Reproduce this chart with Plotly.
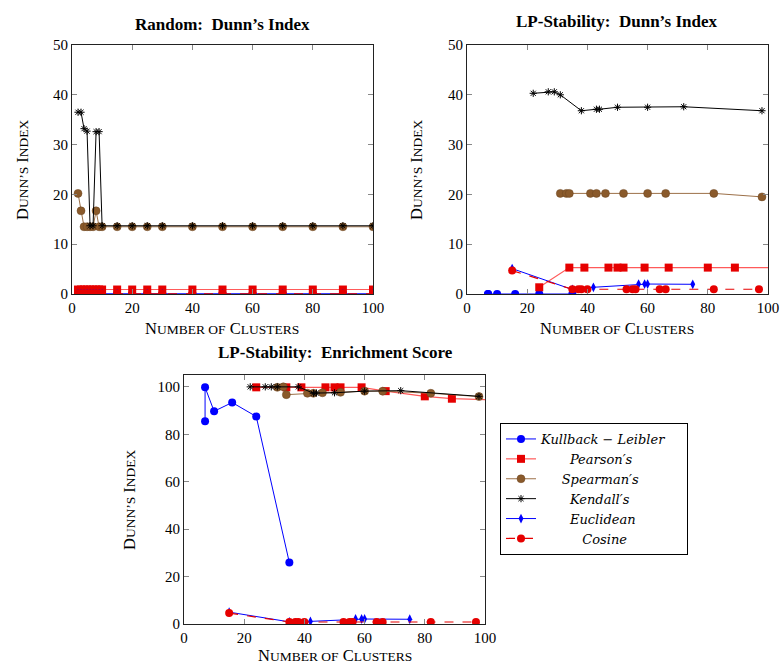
import plotly.graph_objects as go

# ---------------- data ----------------
# Random: Dunn's Index
rand_x = [2, 3, 4, 5, 6, 7, 8, 9, 10, 15, 20, 25, 30, 40, 50, 60, 70, 80, 90, 100]
rand_kl = [0, 0, 0, 0, 0, 0, 0, 0, 0, 0, 0, 0, 0, 0, 0, 0, 0, 0, 0, 0]
rand_pearson = [0.9, 0.9, 0.9, 0.9, 0.9, 0.9, 0.9, 0.9, 0.9, 0.9, 0.9, 0.9, 0.9, 0.9, 0.9, 0.9, 0.9, 0.9, 0.9, 0.9]
rand_spearman = [20.2, 16.7, 13.5, 13.5, 13.5, 13.5, 16.7, 13.5, 13.5, 13.5, 13.5, 13.5, 13.5, 13.5, 13.5, 13.5, 13.5, 13.5, 13.5, 13.5]
rand_kendall = [36.5, 36.5, 33.2, 32.7, 13.7, 13.7, 32.6, 32.6, 13.7, 13.7, 13.7, 13.7, 13.7, 13.7, 13.7, 13.7, 13.7, 13.7, 13.7, 13.7]
rand_euclid = [0, 0, 0, 0, 0, 0, 0, 0, 0, 0, 0, 0, 0, 0, 0, 0, 0, 0, 0, 0]
rand_cosine = [0.05, 0.05, 0.05, 0.05, 0.05, 0.05, 0.05, 0.05, 0.05, 0.05, 0.05, 0.05, 0.05, 0.05, 0.05, 0.05, 0.05, 0.05, 0.05, 0.05]

# LP-Stability cluster counts
kl_x = [7, 7, 10, 16, 24, 35]
pearson_x = [24, 34, 39, 47, 50, 52, 59, 67, 80, 89, 105]
spearman_x = [31, 33, 34, 41, 43, 46, 52, 60, 66, 82, 98]
kendall_x = [22, 27, 29, 31, 38, 43, 44, 50, 60, 72, 98]
euclid_x = [15, 35, 42, 57, 59, 60, 75]
cosine_x = [15, 35, 37, 38, 40, 53, 55, 56, 64, 66, 82, 97]

# LP-Stability: Dunn's Index
lp_kl = [0, 0, 0, 0, 0, 0]
lp_pearson = [1.35, 5.3, 5.3, 5.3, 5.3, 5.3, 5.3, 5.3, 5.3, 5.3, 5.3]
lp_spearman = [20.2, 20.2, 20.2, 20.2, 20.2, 20.2, 20.2, 20.2, 20.2, 20.2, 19.5]
lp_kendall = [40.3, 40.6, 40.6, 40.0, 36.8, 37.1, 37.1, 37.5, 37.5, 37.6, 36.8]
lp_euclid = [5.1, 0.9, 1.35, 2.0, 2.0, 2.0, 1.95]
lp_cosine = [4.7, 0.95, 0.95, 0.95, 0.95, 0.95, 0.95, 0.95, 0.95, 0.95, 0.95, 0.95]

# LP-Stability: Enrichment Score
en_kl = [85.5, 99.8, 89.7, 93.4, 87.5, 25.9]
en_pearson = [99.8, 99.8, 99.8, 99.8, 99.8, 99.8, 99.8, 98.2, 96.0, 95.0, 94.5]
en_spearman = [99.8, 100.0, 96.7, 97.3, 97.3, 97.5, 97.7, 98.2, 98.2, 97.3, 95.9]
en_kendall = [100.0, 100.0, 100.0, 100.0, 100.0, 97.3, 97.4, 97.5, 98.2, 98.4, 96.0]
en_euclid = [5.0, 0.9, 1.1, 2.1, 2.1, 2.1, 2.0]
en_cosine = [4.6, 0.85, 0.85, 0.85, 0.85, 0.85, 0.85, 0.85, 0.85, 0.85, 0.85, 0.85]

NB = "\u00a0"
names = ["<i>Kullback</i> − <i>Leibler</i>" + NB * 4,
         NB * 7 + "<i>Pearson′s</i>",
         NB * 5 + "<i>Spearman′s</i>",
         NB * 7 + "<i>Kendall′s</i>",
         NB * 7 + "<i>Euclidean</i>",
         NB * 10 + "<i>Cosine</i>"]

BLUE = "#0000ff"
RED = "#e60000"
REDL = "#ff5a5a"
BROWN = "#8a5a2b"
BLACK = "#000000"

styles = [
    dict(line=dict(color=BLUE, width=1), marker=dict(symbol="circle", size=8, color=BLUE)),
    dict(line=dict(color=REDL, width=1.2), marker=dict(symbol="square", size=8, color=RED)),
    dict(line=dict(color="#9c7048", width=1), marker=dict(symbol="circle", size=8, color=BROWN,
                                                        line=dict(color="#6b4420", width=0.5))),
    dict(line=dict(color=BLACK, width=1), marker=dict(symbol="asterisk-open", size=6,
                                                      line=dict(color=BLACK, width=1))),
    dict(line=dict(color=BLUE, width=1), marker=dict(symbol="diamond-tall", size=7, color=BLUE)),
    dict(line=dict(color=RED, width=1.2, dash="dash"), marker=dict(symbol="circle", size=8, color=RED)),
]

fig = go.Figure()

panels = [
    ("x", "y", [rand_x] * 6, [rand_kl, rand_pearson, rand_spearman, rand_kendall, rand_euclid, rand_cosine], False),
    ("x2", "y2", [kl_x, pearson_x, spearman_x, kendall_x, euclid_x, cosine_x],
     [lp_kl, lp_pearson, lp_spearman, lp_kendall, lp_euclid, lp_cosine], False),
    ("x3", "y3", [kl_x, pearson_x, spearman_x, kendall_x, euclid_x, cosine_x],
     [en_kl, en_pearson, en_spearman, en_kendall, en_euclid, en_cosine], True),
]

for xa, ya, xs, ys, show in panels:
    for i in range(6):
        fig.add_trace(go.Scatter(x=xs[i], y=ys[i], mode="lines+markers", name=names[i],
                                 showlegend=show, xaxis=xa, yaxis=ya, **styles[i]))

W, H = 780, 666
FONT = "Liberation Serif"


def dx(a, b):
    return [a / W, b / W]


def dy(top, bottom):
    return [(H - bottom) / H, (H - top) / H]


axis_common = dict(showline=True, linecolor="#222222", linewidth=1, mirror="ticks",
                   ticks="inside", ticklen=5, tickcolor="#888888", showgrid=False,
                   zeroline=False, automargin=False,
                   tickfont=dict(family=FONT, size=15, color="black"))

fig.update_layout(
    width=W, height=H, margin=dict(l=0, r=0, t=0, b=0, autoexpand=False),
    paper_bgcolor="white", plot_bgcolor="white",
    font=dict(family=FONT, color="black"),
    xaxis=dict(domain=dx(72, 373), range=[0, 100], tickvals=[0, 20, 40, 60, 80, 100], anchor="y", **axis_common),
    yaxis=dict(domain=dy(45, 294), range=[0, 50], tickvals=[0, 10, 20, 30, 40, 50], anchor="x", **axis_common),
    xaxis2=dict(domain=dx(467, 768), range=[0, 100], tickvals=[0, 20, 40, 60, 80, 100], anchor="y2", **axis_common),
    yaxis2=dict(domain=dy(45, 294), range=[0, 50], tickvals=[0, 10, 20, 30, 40, 50], anchor="x2", **axis_common),
    xaxis3=dict(domain=dx(184, 485), range=[0, 100], tickvals=[0, 20, 40, 60, 80, 100], anchor="y3", **axis_common),
    yaxis3=dict(domain=dy(375, 624), range=[0, 105], tickvals=[0, 20, 40, 60, 80, 100], anchor="x3", **axis_common),
    legend=dict(x=500 / W, y=(H - 423) / H, xanchor="left", yanchor="top",
                bordercolor="black", borderwidth=1, bgcolor="white",
                font=dict(family="DejaVu Serif", size=13, color="black"), itemwidth=30,
                tracegroupgap=0),
)

SC = "font-size:13.5px"
xtitle = f"N<span style='{SC}'>UMBER OF</span> C<span style='{SC}'>LUSTERS</span>"
ytitle = f"D<span style='{SC}'>UNN’S</span> I<span style='{SC}'>NDEX</span>"

ann = []
for (cx, cy, text) in [(222, 25, "<b>Random:  Dunn’s Index</b>"),
                       (617, 21, "<b>LP-Stability:  Dunn’s Index</b>"),
                       (335, 352, "<b>LP-Stability:  Enrichment Score</b>")]:
    ann.append(dict(x=cx / W, y=(H - cy) / H, xref="paper", yref="paper", text=text,
                    xanchor="center", yanchor="middle",
                    showarrow=False, font=dict(family=FONT, size=17, color="black")))
for (cx, cy) in [(222, 328), (617, 328), (335, 655)]:
    ann.append(dict(x=cx / W, y=(H - cy) / H, xref="paper", yref="paper", text=xtitle,
                    xanchor="center", yanchor="middle",
                    showarrow=False, font=dict(family=FONT, size=16.5, color="black")))
for (cx, cy) in [(22, 170), (416, 170), (130, 500)]:
    ann.append(dict(x=cx / W, y=(H - cy) / H, xref="paper", yref="paper", text=ytitle,
                    xanchor="center", yanchor="middle",
                    textangle=-90, showarrow=False, font=dict(family=FONT, size=16.5, color="black")))
fig.update_layout(annotations=ann)

fig.write_html("out.html", config={"displayModeBar": False},
               post_script="document.body.style.margin='0';document.body.style.overflow='hidden';")
